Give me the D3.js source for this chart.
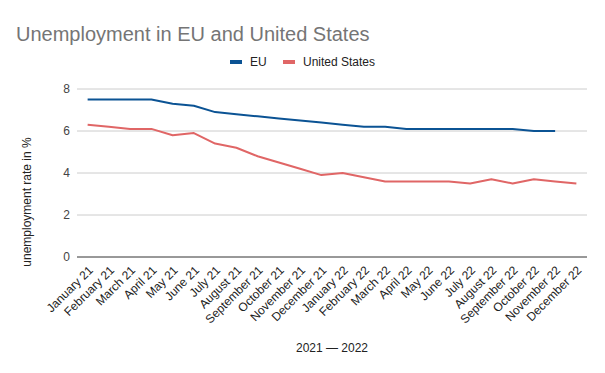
<!DOCTYPE html>
<html>
<head>
<meta charset="utf-8">
<script src="https://cdn.jsdelivr.net/npm/d3@7"></script>
<style>
  body { margin: 0; background: #fff; }
  text { font-family: "Liberation Sans", Arial, sans-serif; }
</style>
</head>
<body>
<div id="canvas"></div>
<script>
const months = ["January 21", "February 21", "March 21", "April 21", "May 21", "June 21",
    "July 21", "August 21", "September 21", "October 21", "November 21", "December 21",
    "January 22", "February 22", "March 22", "April 22", "May 22", "June 22",
    "July 22", "August 22", "September 22", "October 22", "November 22", "December 22"];

const euValues = [7.5, 7.5, 7.5, 7.5, 7.3, 7.2, 6.9, 6.8, 6.7, 6.6, 6.5, 6.4,
    6.3, 6.2, 6.2, 6.1, 6.1, 6.1, 6.1, 6.1, 6.1, 6.0, 6.0, null];

const usValues = [6.3, 6.2, 6.1, 6.1, 5.8, 5.9, 5.4, 5.2, 4.8, 4.5, 4.2, 3.9,
    4.0, 3.8, 3.6, 3.6, 3.6, 3.6, 3.5, 3.7, 3.5, 3.7, 3.6, 3.5];

const yTicks = [0, 2, 4, 6, 8];

const seriesNames = ["EU", "United States"];
const seriesColors = ["#0b5394", "#e06666"];

const width = 605, height = 373;
const plotLeft = 77, plotRight = 587, plotTop = 89, plotBottom = 257;

const svg = d3.select("#canvas").append("svg")
    .attr("width", width)
    .attr("height", height);

svg.append("rect")
    .attr("width", width)
    .attr("height", height)
    .attr("fill", "#fff");

const x = d3.scaleBand()
    .domain(months)
    .range([plotLeft, plotRight]);

const y = d3.scaleLinear()
    .domain([0, 8])
    .range([plotBottom, plotTop]);

// gridlines
svg.append("g")
    .selectAll("line")
    .data(yTicks.filter(d => d > 0))
    .join("line")
    .attr("x1", plotLeft)
    .attr("x2", plotRight)
    .attr("y1", d => y(d))
    .attr("y2", d => y(d))
    .attr("stroke", "#cccccc")
    .attr("stroke-width", 1);

// y labels
svg.append("g")
    .selectAll("text")
    .data(yTicks)
    .join("text")
    .attr("x", plotLeft - 7)
    .attr("y", d => y(d))
    .attr("dy", "0.35em")
    .attr("text-anchor", "end")
    .attr("font-size", 12)
    .attr("fill", "#444")
    .text(d => d);

// zero line
svg.append("line")
    .attr("x1", plotLeft)
    .attr("x2", plotRight)
    .attr("y1", y(0))
    .attr("y2", y(0))
    .attr("stroke", "#333")
    .attr("stroke-width", 1);

// x labels, rotated
svg.append("g")
    .selectAll("text")
    .data(months)
    .join("text")
    .attr("transform", d => "translate(" + (x(d) + x.bandwidth() / 2 + 3) + "," + (plotBottom + 11) + ") rotate(-45)")
    .attr("text-anchor", "end")
    .attr("dy", "0.35em")
    .attr("font-size", 12)
    .attr("fill", "#222")
    .text(d => d);

const line = d3.line()
    .defined(d => d != null)
    .x((d, i) => x(months[i]) + x.bandwidth() / 2)
    .y(d => y(d));

[euValues, usValues].forEach(function (vals, i) {
    svg.append("path")
        .datum(vals)
        .attr("d", line)
        .attr("fill", "none")
        .attr("stroke", seriesColors[i])
        .attr("stroke-width", 2)
        .attr("stroke-linejoin", "round");
});

// title
svg.append("text")
    .attr("x", 16)
    .attr("y", 41)
    .attr("font-size", 20)
    .attr("fill", "#757575")
    .text("Unemployment in EU and United States");

// legend
const legendX = [230, 283];
seriesNames.forEach(function (name, i) {
    svg.append("rect")
        .attr("x", legendX[i])
        .attr("y", 60)
        .attr("width", 12)
        .attr("height", 4)
        .attr("fill", seriesColors[i]);
    svg.append("text")
        .attr("x", legendX[i] + 20)
        .attr("y", 62)
        .attr("dy", "0.35em")
        .attr("font-size", 12)
        .attr("fill", "#222")
        .text(name);
});

// axis titles
svg.append("text")
    .attr("x", 332)
    .attr("y", 352)
    .attr("text-anchor", "middle")
    .attr("font-size", 12)
    .attr("fill", "#222")
    .text("2021 — 2022");

svg.append("text")
    .attr("transform", "translate(31,202) rotate(-90)")
    .attr("text-anchor", "middle")
    .attr("font-size", 12)
    .attr("fill", "#222")
    .text("unemployment rate in %");
</script>
</body>
</html>
